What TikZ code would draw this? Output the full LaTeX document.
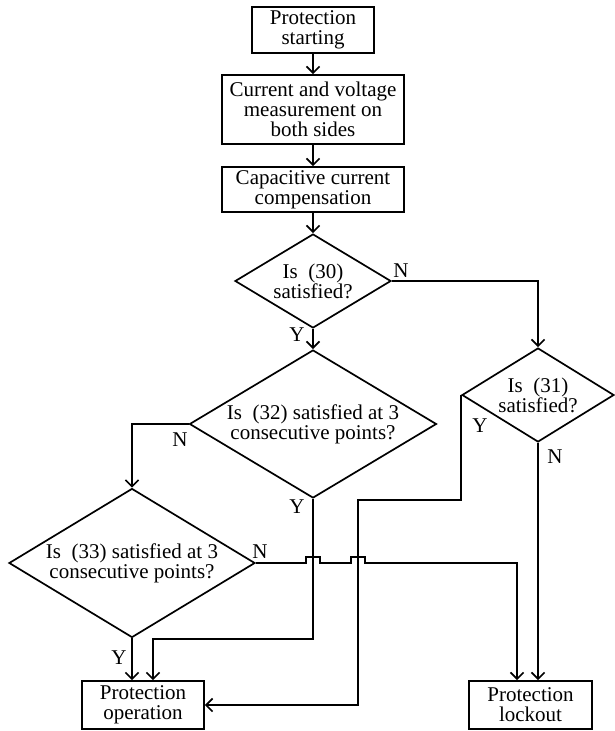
\documentclass[tikz,border=0pt]{standalone}
\usepackage{fontspec}
\setmainfont{Liberation Serif}
\usepackage{tikz}
\usetikzlibrary{arrows.meta, shapes.geometric, calc}
\newcommand{\flowfont}{\fontsize{21}{20}\selectfont}
\tikzset{
    procbox/.style={draw, line width=1.7pt, align=center, inner sep=0pt, font=\flowfont},
    decision/.style={diamond, draw, line width=1.7pt, align=center, inner sep=0pt, font=\flowfont},
    flow/.style={line width=1.7pt, -{Straight Barb[length=6.5pt, width=13pt]}},
    lbl/.style={font=\flowfont, inner sep=0pt}
}

\begin{document}
\begin{tikzpicture}[x=1pt, y=-1pt]
    \useasboundingbox (0,0) rectangle (614,731);
    % Process boxes
    \node[procbox, minimum width=122pt, minimum height=46pt] (start) at (313,30) {Protection\\starting};
    \node[procbox, minimum width=182pt, minimum height=69pt] (meas) at (313,109.5) {Current and voltage\\measurement on\\both sides};
    \node[procbox, minimum width=182pt, minimum height=45pt] (comp) at (313,189.5) {Capacitive current\\compensation};
    \node[procbox, minimum width=122pt, minimum height=48pt] (op) at (143,705) {Protection\\operation};
    \node[procbox, minimum width=123pt, minimum height=48pt] (lock) at (530.5,705) {Protection\\lockout};
    % Decisions
    \node[decision, aspect=1.66, minimum width=156pt, minimum height=94pt] (d30) at (313,281) {Is\ \ (30)\\satisfied?};
    \node[decision, aspect=1.62, minimum width=152pt, minimum height=94pt] (d31) at (538,395) {Is\ \ (31)\\satisfied?};
    \node[decision, aspect=1.67, minimum width=247pt, minimum height=148pt] (d32) at (313,424) {Is\ \ (32) satisfied at 3\\consecutive points?};
    \node[decision, aspect=1.65, minimum width=246pt, minimum height=149pt] (d33) at (132,563) {Is\ \ (33) satisfied at 3\\consecutive points?};
    % Connectors
    \draw[flow] (start) -- (meas);
    \draw[flow] (meas) -- (comp);
    \draw[flow] (comp) -- (d30);
    \draw[flow] (d30) -- (d32);
    \draw[flow] (d30.east) -| (d31.north);
    \draw[flow] (d32.west) -| (d33.north);
    \draw[flow] (d32.south) -- ++(0,140) -| ([xshift=10pt]op.north);
    \draw[flow] (d33.south) -- (d33.south |- op.north);
    \draw[flow] (d31.west) |- (358,500) |- (op.east);
    \draw[flow] (d31.south) -- (d31.south |- lock.north);
    \draw[flow] (d33.east) -- (306,563) -- ++(0,-6) -- ++(14,0) -- ++(0,6)
        -- (351,563) -- ++(0,-6) -- ++(14,0) -- ++(0,6) -| ([xshift=-13.5pt]lock.north);
    % Branch labels
    \node[lbl] (n30) at (401,271) {N};
    \node[lbl] (y30) at (297,335) {Y};
    \node[lbl] (n31) at (555,457) {N};
    \node[lbl] (y31) at (480,426) {Y};
    \node[lbl] (n32) at (180,440) {N};
    \node[lbl] (y32) at (297,507) {Y};
    \node[lbl] (n33) at (260,552) {N};
    \node[lbl] (y33) at (119,658) {Y};
\end{tikzpicture}
\end{document}
